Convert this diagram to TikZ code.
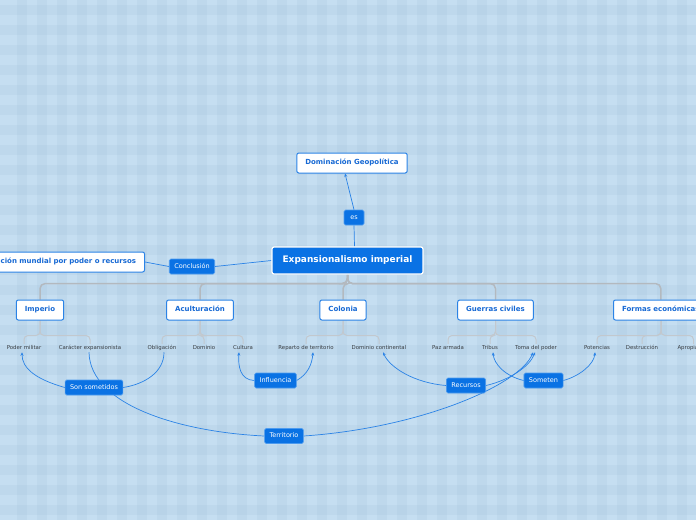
\documentclass[tikz,border=0pt]{standalone}
\usepackage{fontspec}
\setmainfont{DejaVu Sans}
\usetikzlibrary{calc}
\usetikzlibrary{arrows.meta}
\definecolor{bgblue}{HTML}{C5DEF1}
\definecolor{stripe}{HTML}{A8C6DE}
\definecolor{mainblue}{HTML}{0A72E4}
\definecolor{topicblue}{HTML}{1769D4}
\definecolor{linkblue}{HTML}{2B83E6}
\definecolor{labelrim}{HTML}{4D9BEF}
\definecolor{treegray}{HTML}{B3B9BF}
\definecolor{leafgray}{HTML}{C2C8CE}
\definecolor{leaftext}{HTML}{3A3F44}
\pgfdeclarelayer{bglayer}
\pgfdeclarelayer{linklayer}
\pgfsetlayers{bglayer,linklayer,main}

\begin{document}
\begin{tikzpicture}[x=1pt, y=-1pt]
				\tikzstyle{rootnode}=[draw=white, line width=1.2pt, rounded corners=2pt, fill=mainblue, text=white, font=\fontsize{9}{10}\selectfont\bfseries, minimum height=27pt, inner xsep=10.5pt]
				\tikzstyle{topicnode}=[draw=linkblue, line width=1pt, rounded corners=2pt, fill=white, text=topicblue, font=\fontsize{7}{8}\selectfont\bfseries, text height=5.2pt, text depth=1.4pt, minimum height=20pt, inner xsep=8.5pt]
				\tikzstyle{leafnode}=[text=leaftext, font=\fontsize{5.4}{6}\selectfont, text height=4pt, text depth=1.1pt, inner sep=1.5pt]
				\tikzstyle{linknode}=[draw=labelrim, line width=0.6pt, rounded corners=1.5pt, fill=mainblue, text=white, font=\fontsize{6.5}{7}\selectfont, text height=4.8pt, text depth=1.3pt, minimum height=15pt, minimum width=20pt, inner xsep=5pt]
				\tikzstyle{treeline}=[draw=treegray, line width=1.5pt, rounded corners=5pt]
				\tikzstyle{leafline}=[draw=leafgray, line width=1pt, rounded corners=4pt]
				\tikzstyle{relline}=[draw=linkblue, line width=0.7pt]
				\tikzstyle{relarrow}=[relline, -{Stealth[length=3.5pt,width=3pt]}]
				
				\useasboundingbox (0,0) rectangle (696,520);
				
				% checked background
				\begin{pgfonlayer}{bglayer}
				\fill[bgblue] (0,0) rectangle (696,520);
				\foreach \x in {17,37,...,677} \fill[stripe, opacity=0.24] (\x,0) rectangle ++(10,520);
				\foreach \y in {5,25,...,505} \fill[stripe, opacity=0.24] (0,\y) rectangle ++(696,10);
				\end{pgfonlayer}
				
				\node (root) at (347.5,260.5) [rootnode] {Expansionalismo imperial};
				\node (geo) at (352,163) [topicnode] {Dominación Geopolítica};
				\node (es) at (354,217.5) [linknode] {es};
				\node (left) at (145,262) [topicnode, anchor=east] {Dominación mundial por poder o recursos};
				\node (conc) at (192,266.5) [linknode] {Conclusión};
				
				\node (imp) at (40,310) [topicnode] {Imperio};
				\node (acu) at (200,310) [topicnode] {Aculturación};
				\node (col) at (343,310) [topicnode] {Colonia};
				\node (gue) at (495.5,310) [topicnode] {Guerras civiles};
				\node (for) at (613,310) [topicnode, anchor=west] {Formas económicas};
				
				\node (pm) at (24,348) [leafnode] {Poder militar};
				\node (car) at (90,348) [leafnode] {Carácter expansionista};
				\node (obl) at (162,348) [leafnode] {Obligación};
				\node (dom) at (204,348) [leafnode] {Dominio};
				\node (cul) at (243,348) [leafnode] {Cultura};
				\node (rep) at (306,348) [leafnode] {Reparto de territorio};
				\node (dc) at (379,348) [leafnode] {Dominio continental};
				\node (paz) at (448,348) [leafnode] {Paz armada};
				\node (tri) at (490,348) [leafnode] {Tribus};
				\node (tdp) at (536,348) [leafnode] {Toma del poder};
				\node (pot) at (597,348) [leafnode] {Potencias};
				\node (des) at (642,348) [leafnode] {Destrucción};
				\node (apr) at (693.5,348) [leafnode] {Apropiación};
				
				\node (son) at (94,387.5) [linknode] {Son sometidos};
				\node (ter) at (284,436) [linknode] {Territorio};
				\node (inf) at (275.5,380.5) [linknode] {Influencia};
				\node (rec) at (466,385.5) [linknode] {Recursos};
				\node (som) at (543.5,380.5) [linknode] {Someten};
				
				\begin{pgfonlayer}{linklayer}
				\foreach \t in {imp,acu,col,gue,for}
					\draw[treeline] (root.south) -- ++(0,9) -| (\t.north);
				\foreach \l in {pm,car}
					\draw[leafline] (imp.south) -- ++(0,15) -| (\l.north);
				\foreach \l in {obl,dom,cul}
					\draw[leafline] (acu.south) -- ++(0,15) -| (\l.north);
				\foreach \l in {rep,dc}
					\draw[leafline] (col.south) -- ++(0,15) -| (\l.north);
				\foreach \l in {paz,tri,tdp}
					\draw[leafline] (gue.south) -- ++(0,15) -| (\l.north);
				\foreach \l in {pot,des,apr}
					\draw[leafline] (for.south -| 661,0) -- ++(0,15) -| (\l.north);
				
				\draw[relline] ($(root.north)+(7,0)$) -- (es.south);
				\draw[relarrow] (es.north) -- ($(geo.south)+(-7,0)$);
				\draw[relline] (root.west) -- (conc.east);
				\draw[relline] (conc.west) -- (left.east);
				
				\draw[relline] ($(obl.south)+(2,0)$) .. controls (164,372) and (145,384) .. (son.east);
				\draw[relarrow] (son.west) .. controls (35,379) and (22,368) .. ($(pm.south)+(-2,0)$);
				\draw[relline] ($(car.south)+(-1,0)$) .. controls (90,405) and (180,432) .. (ter.west);
				\draw[relarrow] (ter.east) .. controls (420,428) and (520,385) .. ($(tdp.south)+(-3,0)$);
				\draw[relarrow] (inf.west) .. controls (240,380) and (238,366) .. ($(cul.south)+(-4,0)$);
				\draw[relarrow] (inf.east) .. controls (308,374) and (312,364) .. ($(rep.south)+(7,0)$);
				\draw[relarrow] (rec.west) .. controls (415,383) and (390,368) .. ($(dc.south)+(4,0)$);
				\draw[relarrow] (rec.east) .. controls (510,380) and (530,366) .. ($(tdp.south)+(-1,0)$);
				\draw[relarrow] (som.west) .. controls (505,376) and (494,364) .. ($(tri.south)+(3,0)$);
				\draw[relarrow] (som.east) .. controls (580,376) and (594,364) .. ($(pot.south)+(-2,0)$);
				\end{pgfonlayer}
\end{tikzpicture}
\end{document}
